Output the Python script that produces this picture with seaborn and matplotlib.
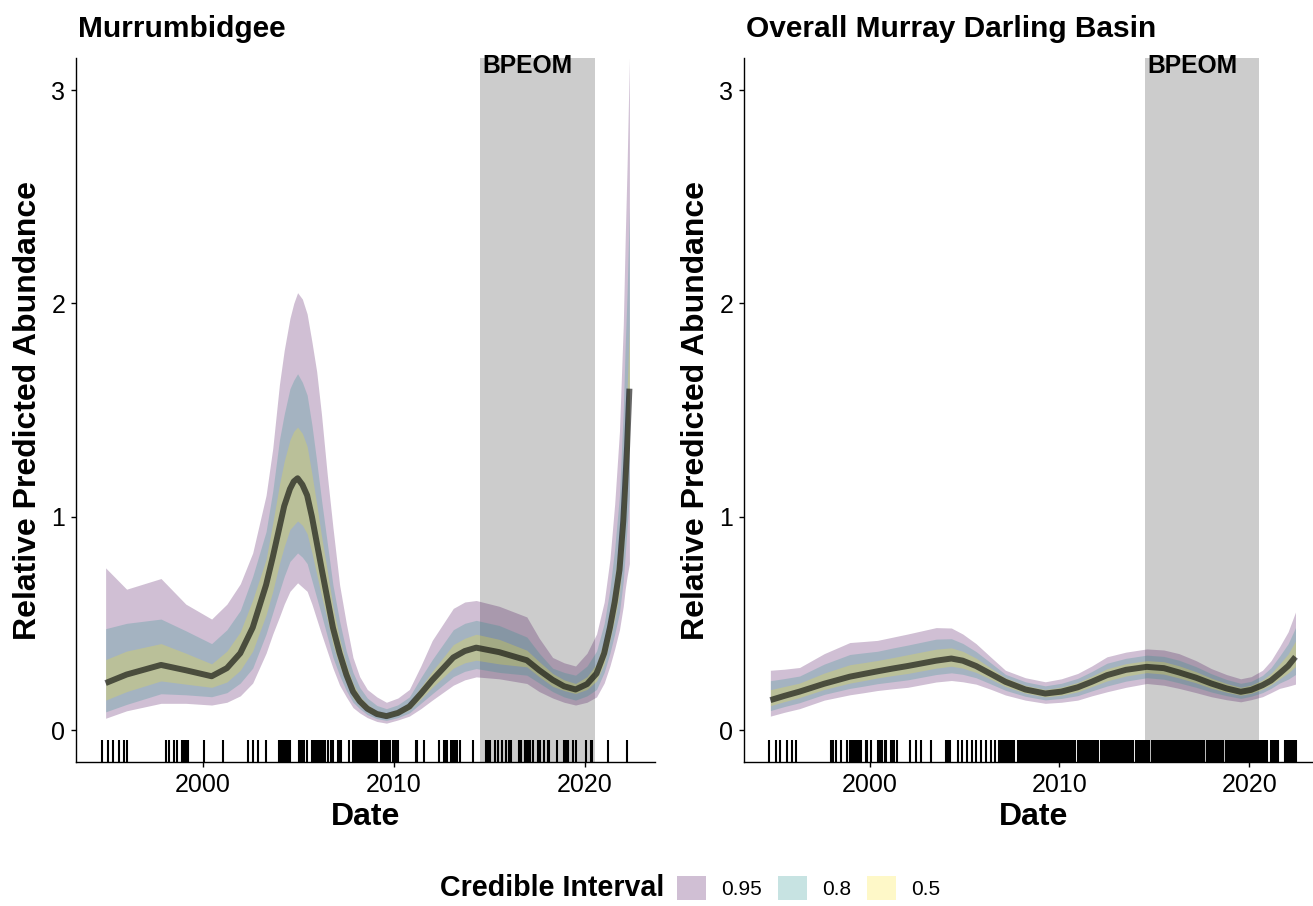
import matplotlib
matplotlib.use("Agg")
import matplotlib.pyplot as plt
import matplotlib.transforms as mtransforms
from matplotlib.patches import Patch
import seaborn as sns

# ---- Murrumbidgee: posterior median and credible bands
mur_year = [1994.9, 1996.0, 1997.8, 1999.1, 2000.45, 2001.25, 2001.95, 2002.6, 2003.3, 2003.65,
            2004.0, 2004.25, 2004.55, 2004.75, 2004.95, 2005.2, 2005.45, 2005.7, 2005.95, 2006.2,
            2006.5, 2006.8, 2007.15, 2007.5, 2007.85, 2008.2, 2008.6, 2009.1, 2009.6, 2010.2,
            2010.8, 2011.4, 2012.0, 2013.1, 2013.7, 2014.3, 2015.5, 2016.95, 2017.6, 2018.3,
            2018.9, 2019.5, 2020.1, 2020.6, 2021.0, 2021.3, 2021.55, 2021.8, 2022.0, 2022.1,
            2022.2, 2022.32]
mur_med = [0.22, 0.26, 0.305, 0.28, 0.252, 0.29, 0.36, 0.48, 0.68, 0.81,
           0.95, 1.05, 1.13, 1.165, 1.18, 1.15, 1.10, 1.00, 0.88, 0.76,
           0.62, 0.48, 0.36, 0.26, 0.18, 0.135, 0.10, 0.075, 0.065, 0.08,
           0.11, 0.17, 0.234, 0.34, 0.37, 0.386, 0.365, 0.327, 0.28, 0.235,
           0.205, 0.19, 0.215, 0.265, 0.36, 0.48, 0.60, 0.75, 0.98, 1.15,
           1.33, 1.60]
mur_lo50 = [0.14, 0.18, 0.23, 0.215, 0.20, 0.225, 0.28, 0.37, 0.54, 0.65,
            0.78, 0.86, 0.94, 0.96, 0.98, 0.96, 0.92, 0.83, 0.73, 0.63,
            0.52, 0.40, 0.30, 0.22, 0.15, 0.115, 0.085, 0.064, 0.055, 0.07,
            0.095, 0.145, 0.20, 0.29, 0.315, 0.327, 0.31, 0.296, 0.25, 0.205,
            0.185, 0.171, 0.19, 0.23, 0.31, 0.42, 0.52, 0.64, 0.83, 0.97,
            1.12, 1.35]
mur_hi50 = [0.33, 0.37, 0.405, 0.36, 0.31, 0.37, 0.46, 0.61, 0.80, 0.97,
            1.15, 1.26, 1.36, 1.40, 1.42, 1.39, 1.33, 1.20, 1.06, 0.91,
            0.75, 0.58, 0.43, 0.31, 0.22, 0.16, 0.12, 0.09, 0.08, 0.097,
            0.13, 0.20, 0.275, 0.40, 0.43, 0.449, 0.425, 0.374, 0.32, 0.265,
            0.235, 0.218, 0.25, 0.31, 0.42, 0.56, 0.71, 0.90, 1.18, 1.40,
            1.60, 1.90]
mur_lo80 = [0.085, 0.12, 0.17, 0.165, 0.156, 0.175, 0.22, 0.29, 0.45, 0.55,
            0.65, 0.72, 0.79, 0.81, 0.83, 0.81, 0.78, 0.70, 0.62, 0.54,
            0.44, 0.34, 0.255, 0.185, 0.13, 0.10, 0.072, 0.053, 0.045, 0.058,
            0.08, 0.125, 0.17, 0.25, 0.275, 0.288, 0.27, 0.257, 0.22, 0.18,
            0.155, 0.14, 0.16, 0.19, 0.27, 0.36, 0.45, 0.55, 0.70, 0.82,
            0.95, 1.10]
mur_hi80 = [0.475, 0.50, 0.52, 0.465, 0.405, 0.47, 0.56, 0.72, 0.93, 1.12,
            1.36, 1.48, 1.60, 1.64, 1.67, 1.63, 1.57, 1.43, 1.26, 1.08,
            0.88, 0.68, 0.51, 0.37, 0.27, 0.20, 0.15, 0.115, 0.10, 0.118,
            0.155, 0.245, 0.33, 0.47, 0.50, 0.514, 0.49, 0.436, 0.36, 0.29,
            0.27, 0.257, 0.30, 0.37, 0.50, 0.66, 0.85, 1.10, 1.50, 1.80,
            2.05, 2.45]
mur_lo95 = [0.055, 0.09, 0.125, 0.125, 0.117, 0.13, 0.16, 0.22, 0.36, 0.45,
            0.53, 0.59, 0.65, 0.67, 0.69, 0.67, 0.65, 0.59, 0.52, 0.45,
            0.37, 0.29, 0.21, 0.155, 0.105, 0.08, 0.058, 0.04, 0.032, 0.047,
            0.065, 0.10, 0.14, 0.21, 0.235, 0.249, 0.24, 0.218, 0.18, 0.15,
            0.13, 0.117, 0.13, 0.155, 0.22, 0.30, 0.38, 0.47, 0.58, 0.66,
            0.72, 0.78]
mur_hi95 = [0.76, 0.66, 0.71, 0.59, 0.52, 0.59, 0.685, 0.83, 1.10, 1.32,
            1.62, 1.78, 1.93, 2.00, 2.05, 2.02, 1.95, 1.82, 1.68, 1.48,
            1.20, 0.95, 0.68, 0.50, 0.34, 0.25, 0.19, 0.155, 0.13, 0.15,
            0.19, 0.30, 0.42, 0.57, 0.60, 0.607, 0.58, 0.53, 0.43, 0.34,
            0.315, 0.30, 0.36, 0.45, 0.60, 0.80, 1.06, 1.40, 1.90, 2.30,
            2.65, 3.15]

# ---- Overall Murray Darling Basin
mdb_year = [1994.76, 1995.5, 1996.3, 1997.6, 1998.95, 1999.7, 2000.4, 2001.2, 2002.0, 2003.5,
            2004.3, 2004.9, 2005.6, 2006.4, 2007.15, 2008.2, 2009.25, 2010.1, 2010.96, 2011.7,
            2012.5, 2013.5, 2014.6, 2015.5, 2016.3, 2017.2, 2018.0, 2018.8, 2019.55, 2020.1,
            2020.7, 2021.15, 2021.6, 2022.05, 2022.44]
mdb_med = [0.14, 0.16, 0.18, 0.217, 0.25, 0.263, 0.275, 0.288, 0.30, 0.325,
           0.335, 0.325, 0.30, 0.262, 0.226, 0.19, 0.171, 0.18, 0.20, 0.226,
           0.257, 0.282, 0.296, 0.29, 0.27, 0.245, 0.218, 0.195, 0.179, 0.188,
           0.21, 0.232, 0.265, 0.30, 0.343]
mdb_lo50 = [0.114, 0.133, 0.152, 0.19, 0.22, 0.232, 0.244, 0.255, 0.265, 0.29,
            0.299, 0.29, 0.27, 0.237, 0.204, 0.173, 0.155, 0.163, 0.179, 0.203,
            0.23, 0.253, 0.269, 0.262, 0.244, 0.221, 0.196, 0.177, 0.163, 0.172,
            0.191, 0.212, 0.24, 0.267, 0.298]
mdb_hi50 = [0.189, 0.204, 0.22, 0.267, 0.306, 0.316, 0.326, 0.339, 0.353, 0.379,
            0.385, 0.369, 0.337, 0.289, 0.245, 0.209, 0.19, 0.201, 0.223, 0.252,
            0.287, 0.311, 0.325, 0.32, 0.301, 0.273, 0.243, 0.218, 0.20, 0.21,
            0.235, 0.265, 0.309, 0.356, 0.417]
mdb_lo80 = [0.091, 0.11, 0.128, 0.167, 0.195, 0.206, 0.217, 0.226, 0.235, 0.26,
            0.268, 0.261, 0.245, 0.215, 0.186, 0.158, 0.141, 0.148, 0.161, 0.183,
            0.206, 0.229, 0.245, 0.238, 0.221, 0.20, 0.178, 0.161, 0.148, 0.158,
            0.175, 0.195, 0.22, 0.238, 0.26]
mdb_hi80 = [0.231, 0.241, 0.253, 0.309, 0.354, 0.362, 0.369, 0.384, 0.398, 0.426,
            0.428, 0.406, 0.368, 0.313, 0.261, 0.226, 0.207, 0.219, 0.242, 0.274,
            0.313, 0.336, 0.351, 0.345, 0.327, 0.297, 0.264, 0.237, 0.219, 0.228,
            0.256, 0.292, 0.346, 0.404, 0.48]
mdb_lo95 = [0.065, 0.083, 0.10, 0.14, 0.165, 0.175, 0.185, 0.193, 0.20, 0.225,
            0.232, 0.226, 0.215, 0.19, 0.164, 0.14, 0.125, 0.13, 0.14, 0.16,
            0.179, 0.20, 0.218, 0.21, 0.195, 0.175, 0.156, 0.142, 0.132, 0.142,
            0.156, 0.175, 0.195, 0.205, 0.215]
mdb_hi95 = [0.28, 0.285, 0.293, 0.358, 0.41, 0.415, 0.42, 0.435, 0.45, 0.48,
            0.478, 0.45, 0.405, 0.34, 0.28, 0.245, 0.226, 0.24, 0.265, 0.30,
            0.343, 0.365, 0.38, 0.375, 0.358, 0.325, 0.288, 0.26, 0.24, 0.25,
            0.28, 0.325, 0.39, 0.46, 0.553]

# ---- survey months per year (rug)
ALL = [1, 2, 3, 4, 5, 6, 7, 8, 9, 10, 11, 12]
mur_months = {
    1994: [9], 1995: [1, 4, 8, 11], 1996: [1], 1998: [1, 3, 6, 8, 11, 12], 1999: [1, 2, 3],
    2000: [1], 2001: [1], 2002: [5, 8, 11], 2003: [4, 12], 2004: [1, 2, 3, 4, 5, 6, 7],
    2005: [1, 2, 3, 4, 6, 9, 10, 11, 12], 2006: [1, 2, 3, 4, 5, 7, 9, 10],
    2007: [1, 2, 3, 8, 11, 12], 2008: ALL, 2009: [1, 2, 4, 5, 6, 7, 8, 9, 10, 12],
    2010: [1, 2, 3], 2011: [2, 3, 7], 2012: [5, 8, 9, 10, 12], 2013: [1, 2, 3, 4, 6],
    2014: [2, 10, 11, 12], 2015: [1, 4, 6, 8, 11], 2016: [1, 2, 7, 8, 11, 12],
    2017: [1, 2, 4, 7, 8, 11], 2018: [1, 2, 7, 11, 12], 2019: [1, 2, 5, 7],
    2020: [1, 4, 5], 2021: [3], 2022: [3],
}
mdb_months = {
    1994: [9], 1995: [1, 4, 8, 11], 1996: [2], 1997: [12], 1998: [1, 3, 6, 10, 12],
    1999: [1, 2, 3, 4, 5, 6, 7, 10, 11], 2000: [1, 6, 7, 8, 10, 11], 2001: [2, 3, 4, 6],
    2002: [2, 6, 9], 2003: [3], 2004: [1, 2, 3, 8, 11], 2005: [2, 5, 8, 11],
    2006: [2, 5, 8, 10, 11, 12], 2007: [1, 2, 3, 4, 5, 6, 7, 8, 10, 11, 12], 2008: ALL,
    2009: ALL, 2010: [1, 2, 3, 4, 5, 6, 7, 8, 9, 10, 12], 2011: ALL,
    2012: [1, 3, 4, 5, 6, 7, 8, 9, 10, 11, 12], 2013: [1, 2, 3, 4, 5, 6, 7, 8, 9, 10, 11],
    2014: [1, 2, 3, 4, 5, 6, 7, 8, 9, 11, 12], 2015: ALL, 2016: ALL,
    2017: [1, 2, 3, 4, 5, 6, 7, 8, 10, 11, 12], 2018: [1, 2, 3, 4, 5, 6, 7, 8, 10, 11, 12],
    2019: ALL, 2020: ALL, 2021: [2, 3, 4, 5, 6, 7, 11, 12], 2022: [1, 2, 3, 4, 5, 6],
}

bpeom_start, bpeom_end, bpeom_label_x = 2014.5, 2020.5, 2017
ci_labels = ["0.95", "0.8", "0.5"]
ci_colors = ["#440154", "#21908C", "#FDE725"]  # viridis(3), drawn at alpha 0.25

sns.set_theme(style="ticks")
plt.rcParams['font.family'] = ['Liberation Sans', 'DejaVu Sans']
for key in ["text.color", "axes.labelcolor", "xtick.color", "ytick.color"]:
    plt.rcParams[key] = "black"

W, H = 1313, 906
fig = plt.figure(figsize=(W / 100, H / 100), dpi=100)
ax_l = fig.add_axes([76 / W, 144 / H, 579 / W, 704 / H])
ax_r = fig.add_axes([744 / W, 144 / H, 579 / W, 704 / H])


def to_dates(months):
    return [y + (m - 0.5) / 12 for y, ms in months.items() for m in ms]


def draw_panel(ax, title, year, med, bands, months, xlim):
    ax.axvspan(bpeom_start, bpeom_end, color="#cccccc", lw=0, zorder=1)
    for (lo, hi), col in zip(bands, ci_colors):
        ax.fill_between(year, lo, hi, color=col, alpha=0.25, linewidth=0, zorder=2)
    sns.lineplot(x=year, y=med, ax=ax, color="black", alpha=0.6, linewidth=4.3,
                 solid_capstyle="butt", zorder=3)
    sns.rugplot(x=to_dates(months), ax=ax, height=0.031, color="black", linewidth=1.5,
                expand_margins=False, zorder=4)
    trans = mtransforms.blended_transform_factory(ax.transData, ax.transAxes)
    ax.text(bpeom_label_x, 1.005, "BPEOM", transform=trans, ha="center", va="top",
            fontsize=17.7, fontweight="bold", zorder=5)
    ax.text(0.003, 1.03, title, transform=ax.transAxes, ha="left", va="baseline",
            fontsize=21.5, fontweight="bold")
    ax.set_xlim(*xlim)
    ax.set_ylim(-0.15, 3.15)
    ax.set_xticks([2000, 2010, 2020])
    ax.set_yticks([0, 1, 2, 3])
    ax.set_xlabel("Date", fontsize=23, fontweight="bold", labelpad=4)
    ax.set_ylabel("Relative Predicted Abundance", fontsize=23, fontweight="bold", labelpad=6)
    ax.tick_params(direction="out", length=3.6, width=1, color="black", labelsize=18,
                   pad=4, labelcolor="black")
    for s in ["top", "right"]:
        ax.spines[s].set_visible(False)
    for s in ["left", "bottom"]:
        ax.spines[s].set_color("black")
        ax.spines[s].set_linewidth(1.0)
    ax.grid(False)


draw_panel(ax_l, "Murrumbidgee", mur_year, mur_med,
           [(mur_lo95, mur_hi95), (mur_lo80, mur_hi80), (mur_lo50, mur_hi50)],
           mur_months, (1993.35, 2023.66))
draw_panel(ax_r, "Overall Murray Darling Basin", mdb_year, mdb_med,
           [(mdb_lo95, mdb_hi95), (mdb_lo80, mdb_hi80), (mdb_lo50, mdb_hi50)],
           mdb_months, (1993.37, 2023.89))

# legend along the bottom
fig.text(440 / W, (H - 888) / H, "Credible Interval", ha="left", va="center",
         fontsize=20.6, fontweight="bold")
handles = [Patch(facecolor=c, alpha=0.25, edgecolor="none") for c in ci_colors]
fig.legend(handles, ci_labels, loc="center left", bbox_to_anchor=(677 / W, (H - 888) / H),
           ncol=3, frameon=False, fontsize=15, handlelength=1.4, handleheight=1.44,
           handletextpad=0.72, columnspacing=0.77, borderaxespad=0, borderpad=0)

fig.savefig("out.png", dpi=100, facecolor="white")
